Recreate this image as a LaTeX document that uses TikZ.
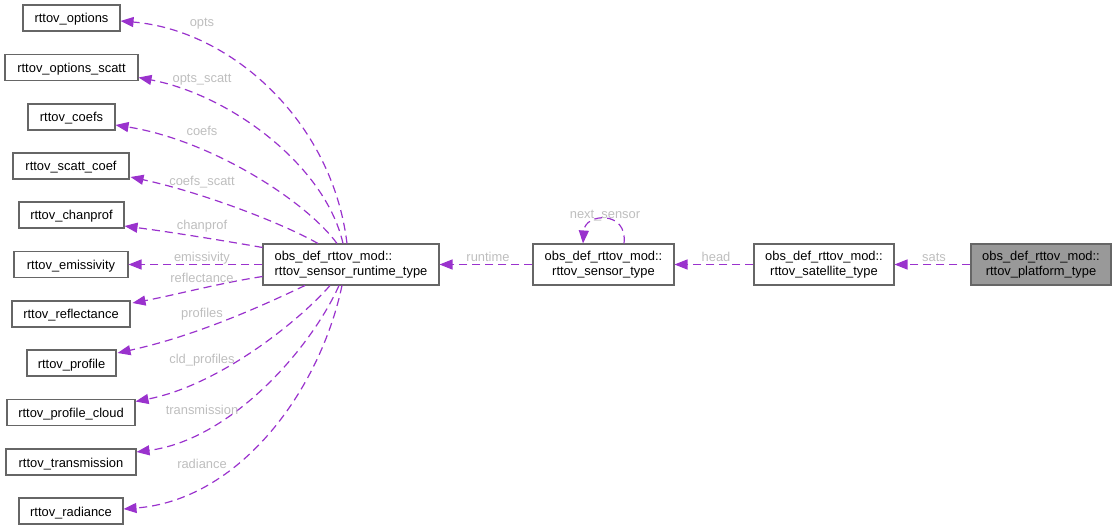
\documentclass[tikz,border=0pt]{standalone}
\usepackage{fontspec}
\setmainfont{Liberation Sans}
\usetikzlibrary{arrows.meta}
\definecolor{edgec}{HTML}{9A32CD}
\definecolor{lblc}{HTML}{BEBEBE}
\definecolor{boxc}{HTML}{666666}
\definecolor{fillc}{HTML}{999999}
\begin{document}
\begin{tikzpicture}[x=1bp,y=-1bp,
  every node/.style={font=\fontsize{12.9bp}{14.5bp}\selectfont},
  box/.style={draw=boxc,line width=1.05bp,fill=white,rectangle,inner sep=0pt,minimum height=26bp,text height=11.5bp,text depth=1.5bp},
  dbox/.style={draw=boxc,line width=1.05bp,fill=white,rectangle,inner sep=0pt,minimum height=41bp,align=center},
  lbl/.style={text=lblc,inner sep=0pt,text height=9.3bp,text depth=2.7bp},
  edge/.style={draw=edgec,line width=1.2bp,dash pattern=on 8bp off 5bp,-{Triangle[length=13bp,width=10bp]}}
]
\useasboundingbox (0,0) rectangle (1117,530);
% left nodes
\node[box,minimum width=97bp]  (o1)  at (71.5,18)  {rttov\_options};
\node[box,minimum width=133bp] (o2)  at (71.5,67.5) {rttov\_options\_scatt};
\node[box,minimum width=87bp]  (o3)  at (71.5,117) {rttov\_coefs};
\node[box,minimum width=116bp] (o4)  at (71,166)   {rttov\_scatt\_coef};
\node[box,minimum width=105bp] (o5)  at (71.5,215) {rttov\_chanprof};
\node[box,minimum width=114bp] (o6)  at (71,264.5) {rttov\_emissivity};
\node[box,minimum width=118bp] (o7)  at (71,314)   {rttov\_reflectance};
\node[box,minimum width=89bp]  (o8)  at (71.5,363) {rttov\_profile};
\node[box,minimum width=128bp] (o9)  at (71,412.5) {rttov\_profile\_cloud};
\node[box,minimum width=130bp] (o10) at (71,462)   {rttov\_transmission};
\node[box,minimum width=104bp] (o11) at (71,511)   {rttov\_radiance};
% main chain
\node[dbox,minimum width=176bp,align=left] (rt) at (351,264.5) {obs\_def\_rttov\_mod::\\rttov\_sensor\_runtime\_type};
\node[dbox,minimum width=141bp] (se) at (603.5,264.5) {obs\_def\_rttov\_mod::\\rttov\_sensor\_type};
\node[dbox,minimum width=140bp] (sa) at (824,264.5) {obs\_def\_rttov\_mod::\\rttov\_satellite\_type};
\node[dbox,minimum width=140bp,fill=fillc] (pl) at (1041,264.5) {obs\_def\_rttov\_mod::\\rttov\_platform\_type};
% edges to left nodes
\draw[edge] ([xshift=-4bp]rt.north) .. controls (332,120) and (230,30) .. ([yshift=-3bp]o1.east);
\draw[edge] ([xshift=-8bp]rt.north) .. controls (325,165) and (230,95) .. ([yshift=-10bp]o2.east);
\draw[edge] ([xshift=-14bp]rt.north) .. controls (305,200) and (210,140) .. ([yshift=-8bp]o3.east);
\draw[edge] ([xshift=-33bp]rt.north) .. controls (280,222) and (200,192) .. ([yshift=-11bp,xshift=1bp]o4.east);
\draw[edge] ([yshift=-4bp]rt.north west) .. controls (220,240) and (170,232) .. ([yshift=-11bp]o5.east);
\draw[edge] (rt.west) -- (o6.east);
\draw[edge] ([yshift=9bp]rt.south west) .. controls (220,283) and (175,295) .. ([yshift=11bp,xshift=2bp]o7.east);
\draw[edge] ([xshift=-46bp]rt.south) .. controls (270,302) and (200,335) .. ([yshift=10bp,xshift=1bp]o8.east);
\draw[edge] ([xshift=-21bp]rt.south) .. controls (300,320) and (220,385) .. ([yshift=11bp]o9.east);
\draw[edge] ([xshift=-12bp]rt.south) .. controls (310,350) and (230,440) .. ([yshift=10bp]o10.east);
\draw[edge] ([xshift=-9bp]rt.south) .. controls (320,390) and (240,500) .. ([yshift=2bp]o11.east);
% chain edges
\draw[edge] (se.west) -- (rt.east);
\draw[edge] (sa.west) -- (se.east);
\draw[edge] (pl.west) -- (sa.east);
\draw[edge] ([xshift=20.5bp]se.north) .. controls (628,210) and (585,213) .. ([xshift=-20.5bp]se.north);
% labels
\node[lbl] (l1)  at (202,23.5)  {opts};
\node[lbl] (l2)  at (202,79.5)  {opts\_scatt};
\node[lbl] (l3)  at (202,132.5) {coefs};
\node[lbl] (l4)  at (202,182.5) {coefs\_scatt};
\node[lbl] (l5)  at (202,226.5) {chanprof};
\node[lbl] (l6)  at (202,258.5) {emissivity};
\node[lbl] (l7)  at (202,279.5) {reflectance};
\node[lbl] (l8)  at (202,314.5) {profiles};
\node[lbl] (l9)  at (202,360.5) {cld\_profiles};
\node[lbl] (l10) at (202,411.5) {transmission};
\node[lbl] (l11) at (202,465.5) {radiance};
\node[lbl] (l12) at (488,258.5) {runtime};
\node[lbl] (l13) at (716,258.5) {head};
\node[lbl] (l14) at (934,258.5) {sats};
\node[lbl] (l15) at (605,215.5) {next\_sensor};
\end{tikzpicture}
\end{document}
